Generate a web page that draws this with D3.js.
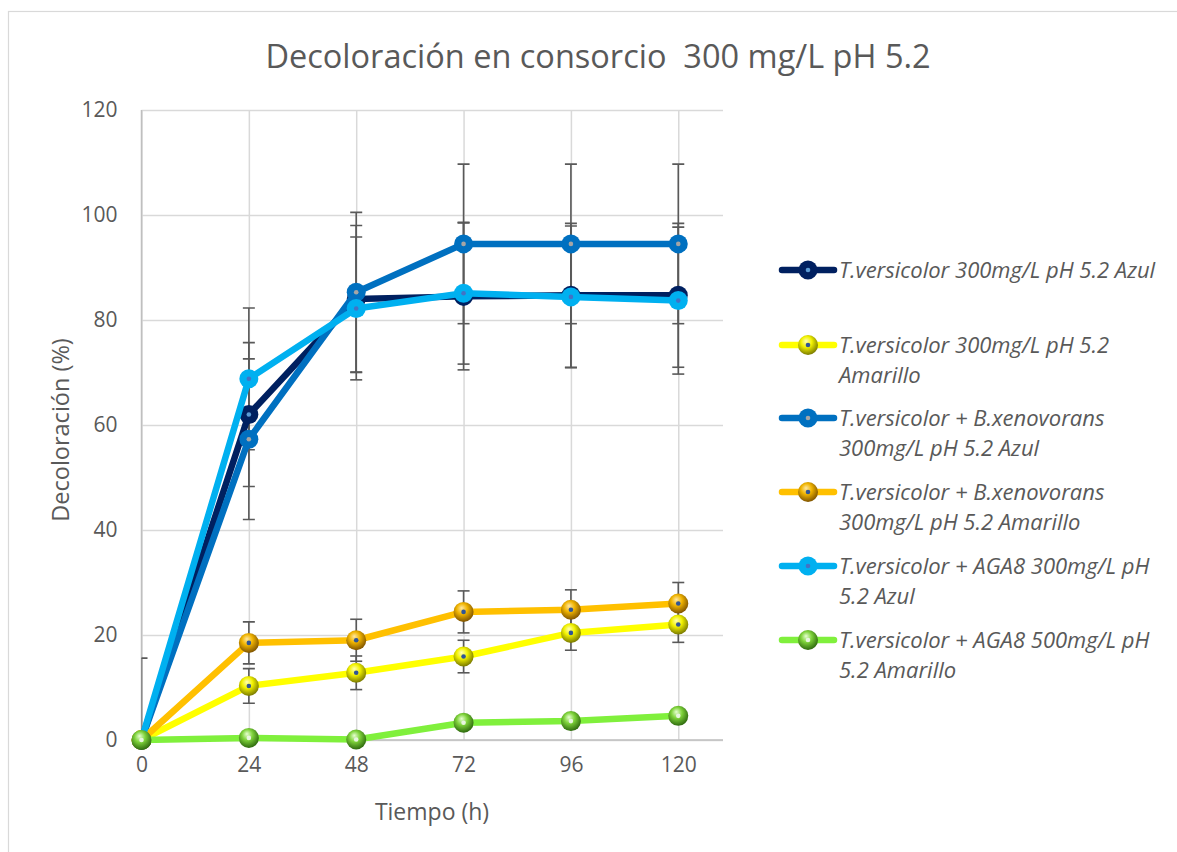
<!DOCTYPE html>
<html>
<head>
<meta charset="utf-8">
<script src="https://cdn.jsdelivr.net/npm/d3@7"></script>
<style>
  body { margin: 0; background: #fff; }
  text { font-family: 'Open Sans', sans-serif; fill: #595959; }
</style>
</head>
<body>
<div id="chart"></div>
<script>
// data
const times = [0, 24, 48, 72, 96, 120];
const xTicks = [0, 24, 48, 72, 96, 120];
const yTicks = [0, 20, 40, 60, 80, 100, 120];

const seriesNames = [
  ['T.versicolor 300mg/L pH 5.2 Azul'],
  ['T.versicolor 300mg/L pH 5.2', 'Amarillo'],
  ['T.versicolor + B.xenovorans', '300mg/L pH 5.2 Azul'],
  ['T.versicolor + B.xenovorans', '300mg/L pH 5.2 Amarillo'],
  ['T.versicolor + AGA8 300mg/L pH', '5.2 Azul'],
  ['T.versicolor + AGA8 500mg/L pH', '5.2 Amarillo'],
];

const tvAzul = [0, 62, 84, 84.5, 84.7, 84.7];
const tvAmarillo = [0, 10.3, 12.8, 15.9, 20.4, 22.0];
const bxAzul = [0, 57.3, 85.3, 94.5, 94.5, 94.5];
const bxAmarillo = [0, 18.5, 19.0, 24.4, 24.8, 26.0];
const agaAzul = [0, 68.8, 82.2, 85.1, 84.4, 83.7];
const agaAmarillo = [0, 0.4, 0.1, 3.3, 3.6, 4.6];

const tvAzulErr = [15.6, 13.7, 14, 14, 13.7, 13.7];
const tvAmarilloErr = [0, 3.3, 3.2, 3.1, 3.3, 3.4];
const bxAzulErr = [0, 15.3, 15.2, 15.2, 15.2, 15.2];
const bxAmarilloErr = [0, 4, 4, 4, 3.8, 4];
const agaAzulErr = [0, 13.5, 13.6, 13.5, 13.5, 14];
const agaAmarilloErr = null;

const seriesValues = [tvAzul, tvAmarillo, bxAzul, bxAmarillo, agaAzul, agaAmarillo];
const seriesErrors = [tvAzulErr, tvAmarilloErr, bxAzulErr, bxAmarilloErr, agaAzulErr, agaAmarilloErr];

// styling
const lineColors = ['#002060', '#FFFF00', '#0070C0', '#FFC000', '#00B0F0', '#80F03C'];
const markerKind = ['flat', 'sphere', 'flat', 'sphere', 'flat', 'sphere'];
const dotColors = ['#5B9BD5', '#2F5597', '#A5A5A5', '#2F5597', '#4472C4', '#E8F5E0'];
const sphereStops = {
  1: ['#FFFFB0', '#F2F200', '#7A7A00'],
  3: ['#FFE7A0', '#F0B400', '#805400'],
  5: ['#E6FFD0', '#7ED23A', '#2E6A0E'],
};

const W = 1177, H = 852;
const plot = { left: 141.5, right: 723, top: 110, bottom: 740 };

const svg = d3.select('#chart').append('svg')
  .attr('width', W).attr('height', H);

// outer chart border
svg.append('rect')
  .attr('x', 8.5).attr('y', 11.5)
  .attr('width', W + 20).attr('height', H + 20)
  .attr('fill', 'none').attr('stroke', '#d9d9d9').attr('stroke-width', 1.2);

const defs = svg.append('defs');
defs.append('clipPath').attr('id', 'plot-clip')
  .append('rect')
  .attr('x', plot.left).attr('y', plot.top)
  .attr('width', plot.right - plot.left).attr('height', plot.bottom - plot.top);

Object.keys(sphereStops).forEach((k) => {
  const g = defs.append('radialGradient').attr('id', 'sphere-' + k)
    .attr('cx', '45%').attr('cy', '40%').attr('r', '60%').attr('fx', '40%').attr('fy', '30%');
  g.append('stop').attr('offset', '0%').attr('stop-color', sphereStops[k][0]);
  g.append('stop').attr('offset', '45%').attr('stop-color', sphereStops[k][1]);
  g.append('stop').attr('offset', '100%').attr('stop-color', sphereStops[k][2]);
});

const xScale = d3.scaleLinear().domain([0, 130]).range([plot.left, plot.right]);
const yScale = d3.scaleLinear().domain([0, 120]).range([plot.bottom, plot.top]);

// gridlines
svg.append('g').attr('class', 'y-grid')
  .attr('transform', `translate(${plot.left},0)`)
  .call(d3.axisLeft(yScale).tickValues(yTicks).tickSize(-(plot.right - plot.left)).tickFormat(''))
  .call((g) => g.select('.domain').remove())
  .call((g) => g.selectAll('line').attr('stroke', '#d9d9d9').attr('stroke-width', 1.5));

svg.append('g').attr('class', 'x-grid')
  .attr('transform', `translate(0,${plot.bottom})`)
  .call(d3.axisBottom(xScale).tickValues(xTicks).tickSize(-(plot.bottom - plot.top)).tickFormat(''))
  .call((g) => g.select('.domain').remove())
  .call((g) => g.selectAll('line').attr('stroke', '#d9d9d9').attr('stroke-width', 1.5));

// axis lines
svg.append('line')
  .attr('x1', plot.left).attr('x2', plot.left).attr('y1', plot.top).attr('y2', plot.bottom)
  .attr('stroke', '#bfbfbf').attr('stroke-width', 1.5);
svg.append('line')
  .attr('x1', plot.left).attr('x2', plot.right).attr('y1', plot.bottom).attr('y2', plot.bottom)
  .attr('stroke', '#bfbfbf').attr('stroke-width', 1.5);

// tick labels
const yAxis = svg.append('g')
  .attr('transform', `translate(${plot.left - 21},0)`)
  .call(d3.axisLeft(yScale).tickValues(yTicks).tickSize(0));
yAxis.select('.domain').remove();
yAxis.selectAll('text').style('font-size', '21px').attr('fill', '#595959')
  .style('font-family', "'Open Sans', sans-serif");

const xAxis = svg.append('g')
  .attr('transform', `translate(0,${plot.bottom + 14})`)
  .call(d3.axisBottom(xScale).tickValues(xTicks).tickSize(0));
xAxis.select('.domain').remove();
xAxis.selectAll('text').style('font-size', '21px').attr('fill', '#595959')
  .style('font-family', "'Open Sans', sans-serif");

// titles
svg.append('text')
  .attr('x', 598).attr('y', 68)
  .attr('text-anchor', 'middle')
  .style('font-size', '32.5px')
  .text('Decoloración en consorcio\u00a0 300 mg/L pH 5.2');

svg.append('text')
  .attr('x', 432).attr('y', 820)
  .attr('text-anchor', 'middle')
  .style('font-size', '23px')
  .text('Tiempo (h)');

svg.append('text')
  .attr('transform', `translate(69,430) rotate(-90)`)
  .attr('text-anchor', 'middle')
  .style('font-size', '23.5px')
  .text('Decoloración (%)');

// error bars
const plotArea = svg.append('g').attr('clip-path', 'url(#plot-clip)');
const errGroup = plotArea.append('g').attr('class', 'error-bars');
seriesValues.forEach((vals, s) => {
  const errs = seriesErrors[s];
  if (!errs) return;
  vals.forEach((v, i) => {
    const e = errs[i];
    if (!e) return;
    const cx = xScale(times[i]);
    errGroup.append('line')
      .attr('x1', cx).attr('x2', cx)
      .attr('y1', yScale(v - e)).attr('y2', yScale(v + e))
      .attr('stroke', '#595959').attr('stroke-width', 1.6);
    [v - e, v + e].forEach((end) => {
      errGroup.append('line')
        .attr('x1', cx - 6).attr('x2', cx + 6)
        .attr('y1', yScale(end)).attr('y2', yScale(end))
        .attr('stroke', '#595959').attr('stroke-width', 1.6);
    });
  });
});

// lines + markers
const line = d3.line().x((d) => xScale(d[0])).y((d) => yScale(d[1]));

function drawMarker(g, s, cx, cy) {
  if (markerKind[s] === 'flat') {
    g.append('circle').attr('cx', cx).attr('cy', cy).attr('r', 9.5).attr('fill', lineColors[s]);
  } else {
    g.append('circle').attr('cx', cx).attr('cy', cy).attr('r', 10)
      .attr('fill', `url(#sphere-${s})`);
  }
  g.append('circle').attr('cx', cx).attr('cy', cy).attr('r', 2.3).attr('fill', dotColors[s]);
}

seriesValues.forEach((vals, s) => {
  const pts = vals.map((v, i) => [times[i], v]);
  const g = svg.append('g').attr('class', 'series');
  g.append('path')
    .datum(pts)
    .attr('d', line)
    .attr('fill', 'none')
    .attr('stroke', lineColors[s])
    .attr('stroke-width', 6.5)
    .attr('stroke-linejoin', 'round')
    .attr('stroke-linecap', 'round');
  pts.forEach((p) => drawMarker(g, s, xScale(p[0]), yScale(p[1])));
});

// legend
const legendY = [270, 345, 418, 492, 566, 640];
const legend = svg.append('g').attr('class', 'legend');
seriesNames.forEach((lines, s) => {
  const g = legend.append('g').attr('transform', `translate(0,${legendY[s]})`);
  g.append('line')
    .attr('x1', 782).attr('x2', 834).attr('y1', 0).attr('y2', 0)
    .attr('stroke', lineColors[s]).attr('stroke-width', 6.5).attr('stroke-linecap', 'round');
  drawMarker(g, s, 808, 0);
  lines.forEach((t, k) => {
    g.append('text')
      .attr('x', 839).attr('y', 8 + k * 30)
      .style('font-size', '22px')
      .style('font-style', 'italic')
      .text(t);
  });
});
</script>
</body>
</html>
